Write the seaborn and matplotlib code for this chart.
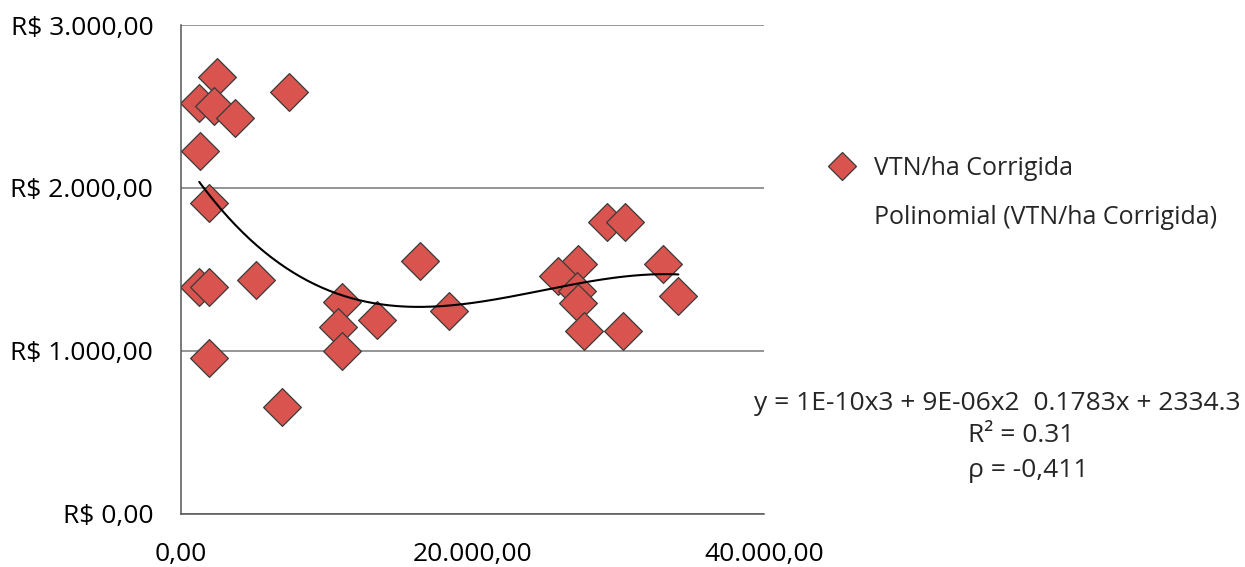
import numpy as np
import pandas as pd
import matplotlib
matplotlib.use('Agg')
import matplotlib.pyplot as plt
from matplotlib.lines import Line2D
from matplotlib.ticker import FuncFormatter, FixedLocator
import seaborn as sns

# data (area x value / VTN per ha)
area = [2450, 1250, 2290, 3700, 7430, 1300, 1900, 1260, 1900, 5150,
        16380, 11050, 10750, 13470, 18410, 11050, 1900, 6930,
        29250, 30460, 27220, 25890, 27150, 27220, 27650, 30350, 33050, 34120]
vtn = [2680, 2520, 2505, 2430, 2590, 2225, 1910, 1390, 1390, 1435,
       1555, 1300, 1150, 1190, 1245, 1000, 955, 655,
       1790, 1790, 1535, 1460, 1365, 1295, 1125, 1125, 1535, 1335]
serie = 'VTN/ha Corrigida'
tend = 'Polinomial (VTN/ha Corrigida)'
eq_txt = 'y = 1E-10x3 + 9E-06x2  0.1783x + 2334.3'
r2_txt = 'R² = 0.31'
rho_txt = 'ρ = -0,411'

df = pd.DataFrame({'x': area, 'y': vtn})

sns.set_style('white')
plt.rcParams['font.family'] = ['Open Sans', 'DejaVu Sans']
fs = 19

fig = plt.figure(figsize=(12.45, 5.67), dpi=100)
ax = fig.add_axes([0.1454, 0.0935, 0.4683, 0.8624])

red = '#D9544E'
sns.scatterplot(data=df, x='x', y='y', marker='D', s=370, color=red,
                edgecolor='#3a3a3a', linewidth=0.9, ax=ax, zorder=3, legend=False)

# 3rd order polynomial trend line
coef = np.polyfit(df['x'], df['y'], 3)
xs = np.linspace(df['x'].min(), df['x'].max(), 200)
ax.plot(xs, np.polyval(coef, xs), color='black', lw=1.5, zorder=4)

ax.set_xlim(0, 40000)
ax.set_ylim(0, 3000)
ax.xaxis.set_major_locator(FixedLocator([0, 20000, 40000]))
ax.yaxis.set_major_locator(FixedLocator([0, 1000, 2000, 3000]))

def br(v):
    s = f'{v:,.2f}'
    return s.replace(',', 'X').replace('.', ',').replace('X', '.')

ax.xaxis.set_major_formatter(FuncFormatter(lambda v, p: br(v)))
ax.yaxis.set_major_formatter(FuncFormatter(lambda v, p: 'R$ ' + br(v)))
ax.set_xlabel('')
ax.set_ylabel('')

ax.yaxis.grid(True, color='#8c8c8c', lw=1.3)
ax.xaxis.grid(False)
ax.set_axisbelow(True)
for s in ['top', 'right']:
    ax.spines[s].set_visible(False)
for s in ['left', 'bottom']:
    ax.spines[s].set_color('#555555')
    ax.spines[s].set_linewidth(1.1)
ax.tick_params(axis='both', direction='out', length=8, width=1.1,
               color='#555555', labelsize=fs, pad=12, labelcolor='black')
ax.margins(0)

handles = [Line2D([], [], marker='D', ls='none', color=red, markeredgecolor='#3a3a3a',
                  markeredgewidth=0.9, markersize=14),
           Line2D([], [], color='none')]
fig.legend(handles, [serie, tend], loc='center left', bbox_to_anchor=(0.646, 0.66),
           frameon=False, fontsize=18, labelspacing=0.95, handlelength=1.2,
           handletextpad=0.7)

fig.text(997 / 1245, 1 - 410 / 567, eq_txt, ha='center', va='baseline', fontsize=19)
fig.text(968 / 1245, 1 - 442 / 567, r2_txt, ha='left', va='baseline', fontsize=19)
fig.text(968 / 1245, 1 - 477 / 567, rho_txt, ha='left', va='baseline', fontsize=19)

fig.savefig('out.png', dpi=100)
